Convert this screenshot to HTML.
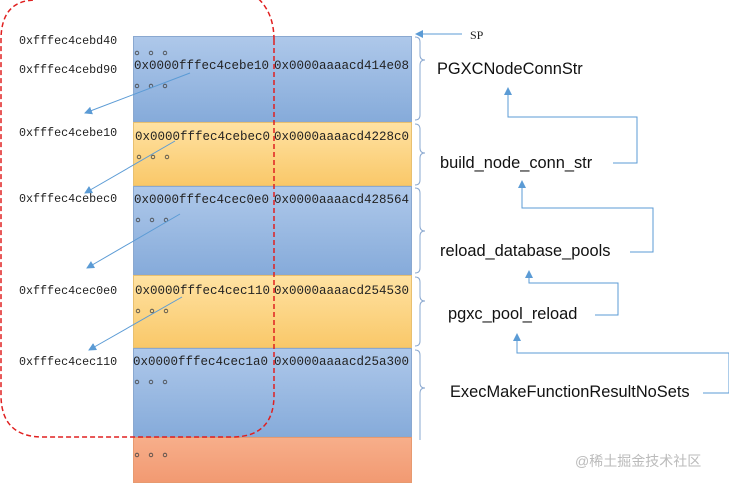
<!DOCTYPE html>
<html><head><meta charset="utf-8"><style>
body{margin:0;width:729px;height:483px;background:#fff;overflow:hidden;position:relative;font-family:"Liberation Mono",monospace;}
.r{position:absolute;left:133px;width:279px;box-sizing:border-box;border:1px solid #8aa8d0;}
.b{background:linear-gradient(#aec8ea,#86abda);}
.y{background:linear-gradient(#ffe2a2,#f9c869);border-color:#e8c070;}
.o{background:linear-gradient(#f7ae8a,#f29a72);border-color:#e79a70;}
.t{position:absolute;font-size:12.5px;color:#222;white-space:nowrap;}
.l{font-size:11.7px;}
.s{position:absolute;font-family:"Liberation Sans",sans-serif;font-size:16.4px;color:#111;white-space:nowrap;}
</style></head><body>
<div class="r b" style="top:36px;height:86px"></div>
<div class="r y" style="top:122px;height:64px"></div>
<div class="r b" style="top:186px;height:89px"></div>
<div class="r y" style="top:275px;height:73px"></div>
<div class="r b" style="top:348px;height:89px"></div>
<div class="r o" style="top:437px;height:46px"></div>

<div class="t l" style="left:19px;top:34px">0xfffec4cebd40</div>
<div class="t l" style="left:19px;top:63px">0xfffec4cebd90</div>
<div class="t l" style="left:19px;top:126px">0xfffec4cebe10</div>
<div class="t l" style="left:19px;top:192px">0xfffec4cebec0</div>
<div class="t l" style="left:19px;top:284px">0xfffec4cec0e0</div>
<div class="t l" style="left:19px;top:355px">0xfffec4cec110</div>

<div class="t" style="left:134px;top:59px">0x0000fffec4cebe10</div><div class="t" style="left:274px;top:59px">0x0000aaaacd414e08</div>
<div class="t" style="left:135px;top:130px">0x0000fffec4cebec0</div><div class="t" style="left:274px;top:130px">0x0000aaaacd4228c0</div>
<div class="t" style="left:134px;top:193px">0x0000fffec4cec0e0</div><div class="t" style="left:274px;top:193px">0x0000aaaacd428564</div>
<div class="t" style="left:135px;top:284px">0x0000fffec4cec110</div><div class="t" style="left:274px;top:284px">0x0000aaaacd254530</div>
<div class="t" style="left:133px;top:355px">0x0000fffec4cec1a0</div><div class="t" style="left:274px;top:355px">0x0000aaaacd25a300</div>

<div class="t" style="left:470px;top:28px;font-family:'Liberation Serif',serif;font-size:12px">SP</div>
<div class="s" style="left:437px;top:60px">PGXCNodeConnStr</div>
<div class="s" style="left:440px;top:154px">build_node_conn_str</div>
<div class="s" style="left:440px;top:242px">reload_database_pools</div>
<div class="s" style="left:448px;top:305px">pgxc_pool_reload</div>
<div class="s" style="left:450px;top:383px">ExecMakeFunctionResultNoSets</div>
<div style="position:absolute;left:575px;top:451px;font-family:'Liberation Sans','Noto Sans CJK SC',sans-serif;font-size:14px;color:#bbb">@稀土掘金技术社区</div>

<svg width="729" height="483" style="position:absolute;left:0;top:0">
<defs><marker id="a" markerWidth="8" markerHeight="8" refX="7" refY="4" orient="auto" markerUnits="userSpaceOnUse"><path d="M0,0L8,4L0,8z" fill="#5b9bd5"/></marker></defs>
<g fill="none" stroke="#444" stroke-width="0.8">
<g id="d"><circle cx="137" cy="53" r="1.8"/><circle cx="151" cy="53" r="1.8"/><circle cx="165" cy="53" r="1.8"/></g>
<use href="#d" y="33"/><use href="#d" y="104" x="2"/><use href="#d" y="167" x="1"/><use href="#d" y="258" x="1"/><use href="#d" y="329"/><use href="#d" y="402"/>
</g>
<g stroke="#5b9bd5" stroke-width="1" fill="none">
<line x1="190" y1="73" x2="85" y2="113" marker-end="url(#a)"/>
<line x1="175" y1="141" x2="85" y2="193" marker-end="url(#a)"/>
<line x1="180" y1="214" x2="87" y2="268" marker-end="url(#a)"/>
<line x1="182" y1="297" x2="89" y2="350" marker-end="url(#a)"/>
<line x1="462" y1="34" x2="416" y2="34" marker-end="url(#a)"/>
<path d="M613,163H637V117H508V88" marker-end="url(#a)"/>
<path d="M630,252H653V208H522V181" marker-end="url(#a)"/>
<path d="M595,315H618V283H529V271" marker-end="url(#a)"/>
<path d="M703,393H729V353H517V334" marker-end="url(#a)"/>
<g stroke="#8aa8d0">
<path d="M415,37q5,0 5,5V55q0,5 5,5q-5,0 -5,5V115q0,5 -5,5"/>
<path d="M415,124q5,0 5,5V148q0,5 5,5q-5,0 -5,5V180q0,5 -5,5"/>
<path d="M415,188q5,0 5,5V226q0,5 5,5q-5,0 -5,5V268q0,5 -5,5"/>
<path d="M415,277q5,0 5,5V296q0,5 5,5q-5,0 -5,5V341q0,5 -5,5"/>
<path d="M415,350q5,0 5,5V383q0,5 5,5q-5,0 -5,5V440"/>
</g>
</g>
<path d="M274,40V395q0,42 -42,42H43q-42,0 -42,-42V40q0,-40 35,-40M274,40q0,-30 -20,-45" stroke="#e02020" stroke-width="1.5" stroke-dasharray="5,3" fill="none"/>
</svg>
</body></html>
